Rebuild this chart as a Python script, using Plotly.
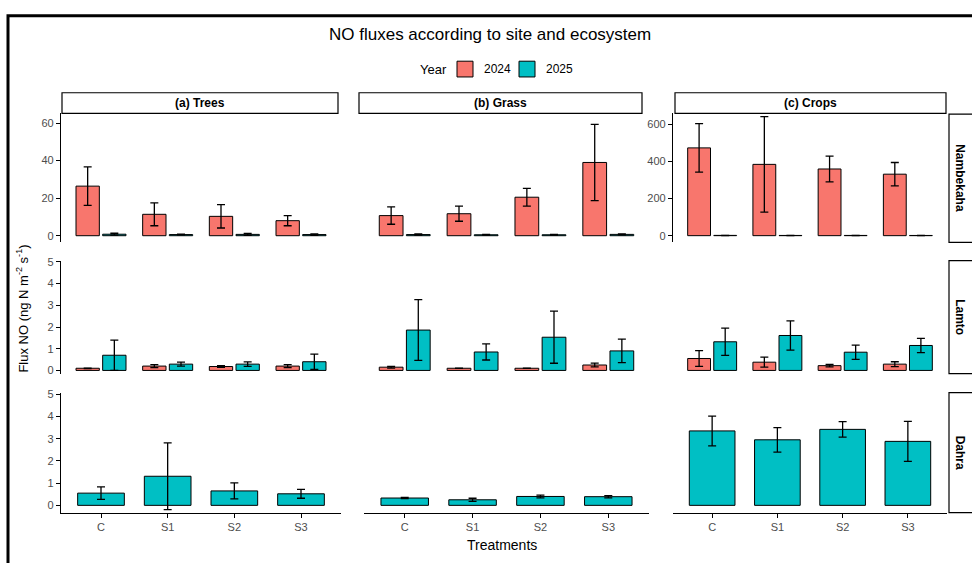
import plotly.graph_objects as go

W, H = 972, 563

treatments = ["C", "S1", "S2", "S3"]
ecosystems = ["(a) Trees", "(b) Grass", "(c) Crops"]
sites = ["Nambekaha", "Lamto", "Dahra"]
years = ["2024", "2025"]

# Nambekaha
namb_trees_2024 = [26.4, 11.4, 10.3, 8.0]
namb_trees_2024_se = [10.3, 6.1, 6.2, 2.7]
namb_trees_2025 = [0.8, 0.6, 0.7, 0.6]
namb_trees_2025_se = [0.5, 0.2, 0.5, 0.4]
namb_grass_2024 = [10.7, 11.7, 20.5, 39.0]
namb_grass_2024_se = [4.6, 4.0, 4.7, 20.3]
namb_grass_2025 = [0.6, 0.5, 0.5, 0.7]
namb_grass_2025_se = [0.3, 0.2, 0.2, 0.3]
namb_crops_2024 = [474, 385, 360, 332]
namb_crops_2024_se = [131, 258, 69, 63]
namb_crops_2025 = [1.5, 1.2, 1.3, 1.1]
namb_crops_2025_se = [0.5, 0.4, 0.4, 0.4]

# Lamto
lamto_trees_2024 = [0.10, 0.20, 0.18, 0.20]
lamto_trees_2024_se = [0.01, 0.07, 0.04, 0.07]
lamto_trees_2025 = [0.70, 0.29, 0.29, 0.40]
lamto_trees_2025_se = [0.70, 0.09, 0.10, 0.35]
lamto_grass_2024 = [0.15, 0.10, 0.10, 0.25]
lamto_grass_2024_se = [0.04, 0.0, 0.0, 0.09]
lamto_grass_2025 = [1.86, 0.85, 1.53, 0.90]
lamto_grass_2025_se = [1.40, 0.37, 1.20, 0.54]
lamto_crops_2024 = [0.55, 0.38, 0.22, 0.29]
lamto_crops_2024_se = [0.36, 0.23, 0.06, 0.11]
lamto_crops_2025 = [1.32, 1.61, 0.84, 1.15]
lamto_crops_2025_se = [0.63, 0.67, 0.33, 0.33]

# Dahra (2025 only)
dahra_trees_2025 = [0.55, 1.31, 0.65, 0.52]
dahra_trees_2025_se = [0.28, 1.50, 0.36, 0.20]
dahra_grass_2025 = [0.33, 0.25, 0.40, 0.39]
dahra_grass_2025_se = [0.03, 0.07, 0.06, 0.05]
dahra_crops_2025 = [3.35, 2.95, 3.42, 2.88]
dahra_crops_2025_se = [0.67, 0.55, 0.35, 0.90]

data = {
    (0, 0): (namb_trees_2024, namb_trees_2024_se, namb_trees_2025, namb_trees_2025_se),
    (0, 1): (namb_grass_2024, namb_grass_2024_se, namb_grass_2025, namb_grass_2025_se),
    (0, 2): (namb_crops_2024, namb_crops_2024_se, namb_crops_2025, namb_crops_2025_se),
    (1, 0): (lamto_trees_2024, lamto_trees_2024_se, lamto_trees_2025, lamto_trees_2025_se),
    (1, 1): (lamto_grass_2024, lamto_grass_2024_se, lamto_grass_2025, lamto_grass_2025_se),
    (1, 2): (lamto_crops_2024, lamto_crops_2024_se, lamto_crops_2025, lamto_crops_2025_se),
    (2, 0): (None, None, dahra_trees_2025, dahra_trees_2025_se),
    (2, 1): (None, None, dahra_grass_2025, dahra_grass_2025_se),
    (2, 2): (None, None, dahra_crops_2025, dahra_crops_2025_se),
}

colors = {"2024": "#F8766D", "2025": "#00BFC4"}
FONT = "Liberation Sans, Arial, Helvetica, sans-serif"
TICKCOL = "#4D4D4D"

col_px = [(61, 341), (364, 649), (673, 947)]
row_px = [(110, 240.7), (259.3, 374), (393.3, 515)]
y_ranges = {
    (0, 0): [-3.5, 65.1], (0, 1): [-3.5, 65.1], (0, 2): [-35.7, 660],
    (1, 0): [-0.15, 5.06], (1, 1): [-0.15, 5.06], (1, 2): [-0.15, 5.06],
    (2, 0): [-0.33, 5.07], (2, 1): [-0.33, 5.07], (2, 2): [-0.33, 5.07],
}
y_ticks = {0: [0, 20, 40, 60], 1: [0, 1, 2, 3, 4, 5], 2: [0, 1, 2, 3, 4, 5]}
crop_ticks_row0 = [0, 200, 400, 600]


def px(x):
    return x / W


def py(y):
    return 1 - y / H


fig = go.Figure()
layout = {}
xpos = list(range(len(treatments)))

for r in range(3):
    for c in range(3):
        k = r * 3 + c + 1
        xa = "x" if k == 1 else f"x{k}"
        ya = "y" if k == 1 else f"y{k}"
        m24, s24, m25, s25 = data[(r, c)]
        if m24 is not None:
            fig.add_trace(go.Bar(
                x=xpos, y=m24, xaxis=xa, yaxis=ya, offset=-0.375, width=0.35,
                marker=dict(color=colors["2024"], line=dict(color="black", width=1)),
                error_y=dict(type="data", array=s24, color="black", thickness=1.3, width=4),
                name="2024", showlegend=False,
            ))
            off, wid = 0.025, 0.35
        else:
            off, wid = -0.35, 0.7
        fig.add_trace(go.Bar(
            x=xpos, y=m25, xaxis=xa, yaxis=ya, offset=off, width=wid,
            marker=dict(color=colors["2025"], line=dict(color="black", width=1)),
            error_y=dict(type="data", array=s25, color="black", thickness=1.3, width=4),
            name="2025", showlegend=False,
        ))

        x0, x1 = col_px[c]
        yt, yb = row_px[r]
        xkey = "xaxis" if k == 1 else f"xaxis{k}"
        ykey = "yaxis" if k == 1 else f"yaxis{k}"
        bottom = r == 2
        layout[xkey] = dict(
            domain=[px(x0), px(x1)], anchor=ya, range=[-0.6, 3.6],
            showgrid=False, zeroline=False, fixedrange=True,
            showline=bottom, linecolor="black", linewidth=1.2,
            ticks="outside" if bottom else "", ticklen=4, tickcolor="black",
            tickvals=xpos, ticktext=treatments, showticklabels=bottom,
            tickfont=dict(family=FONT, size=11, color=TICKCOL),
        )
        show_y = (c == 0) or (r == 0 and c == 2)
        tv = crop_ticks_row0 if (r == 0 and c == 2) else y_ticks[r]
        layout[ykey] = dict(
            domain=[py(yb), py(yt)], anchor=xa, range=y_ranges[(r, c)],
            showgrid=False, zeroline=False, fixedrange=True,
            showline=show_y, linecolor="black", linewidth=1.2,
            ticks="outside" if show_y else "", ticklen=4, tickcolor="black",
            tickvals=tv, showticklabels=show_y,
            tickfont=dict(family=FONT, size=11, color=TICKCOL),
        )

shapes = []
annotations = []
# column strips
for c, lab in enumerate(ecosystems):
    sx = [(62, 338), (359, 642), (675, 946)][c]
    shapes.append(dict(type="rect", xref="paper", yref="paper",
                       x0=px(sx[0]), x1=px(sx[1]), y0=py(110), y1=py(89),
                       line=dict(color="black", width=1.2), fillcolor="white", layer="below"))
    annotations.append(dict(xref="paper", yref="paper", x=px((sx[0] + sx[1]) / 2), y=py(99.5),
                            text=f"<b>{lab}</b>", showarrow=False,
                            font=dict(family=FONT, size=12, color="black"),
                            xanchor="center", yanchor="middle"))
# row strips
row_strip = [(110.7, 240.7), (259.3, 374), (393.3, 515)]
for r, lab in enumerate(sites):
    y0, y1 = row_strip[r]
    shapes.append(dict(type="rect", xref="paper", yref="paper",
                       x0=px(949), x1=px(975), y0=py(y1), y1=py(y0),
                       line=dict(color="black", width=1.2), fillcolor="white", layer="below"))
    annotations.append(dict(xref="paper", yref="paper", x=px(960), y=py((y0 + y1) / 2),
                            text=f"<b>{lab}</b>", showarrow=False, textangle=90,
                            font=dict(family=FONT, size=12, color="black"),
                            xanchor="center", yanchor="middle"))
# outer frame (partially cut in the original)
shapes.append(dict(type="rect", xref="paper", yref="paper",
                   x0=px(8), x1=px(990), y0=py(580), y1=py(11),
                   line=dict(color="black", width=3), fillcolor="rgba(0,0,0,0)", layer="below"))

# legend (drawn manually to match the original key placement)
annotations.append(dict(xref="paper", yref="paper", x=px(418), y=py(65), text="Year",
                        showarrow=False, xanchor="left", yanchor="middle",
                        font=dict(family=FONT, size=13, color="black")))
key_px = {"2024": (457, 482), "2025": (519, 544)}
for yr in years:
    kx, tx = key_px[yr]
    shapes.append(dict(type="rect", xref="paper", yref="paper",
                       x0=px(kx), x1=px(kx + 16), y0=py(73), y1=py(57),
                       line=dict(color="black", width=1), fillcolor=colors[yr]))
    annotations.append(dict(xref="paper", yref="paper", x=px(tx), y=py(65), text=yr,
                            showarrow=False, xanchor="left", yanchor="middle",
                            font=dict(family=FONT, size=12, color="black")))

annotations.append(dict(xref="paper", yref="paper", x=px(22), y=py(308),
                        text="Flux NO (ng N m<sup>-2</sup> s<sup>-1</sup>)", showarrow=False,
                        textangle=-90, font=dict(family=FONT, size=13, color="black"),
                        xanchor="center", yanchor="middle"))
annotations.append(dict(xref="paper", yref="paper", x=px(502), y=py(548),
                        text="Treatments", showarrow=False,
                        font=dict(family=FONT, size=14, color="black"),
                        xanchor="center", yanchor="middle"))
annotations.append(dict(xref="paper", yref="paper", x=px(490), y=py(30),
                        text="NO fluxes according to site and ecosystem", showarrow=False,
                        font=dict(family=FONT, size=17, color="black"),
                        xanchor="center", yanchor="middle"))

fig.update_layout(
    width=W, height=H, margin=dict(l=0, r=0, t=0, b=0),
    paper_bgcolor="white", plot_bgcolor="rgba(0,0,0,0)",
    barmode="overlay", showlegend=False,
    shapes=shapes, annotations=annotations,
    **layout,
)

fig.write_html("out.html")
